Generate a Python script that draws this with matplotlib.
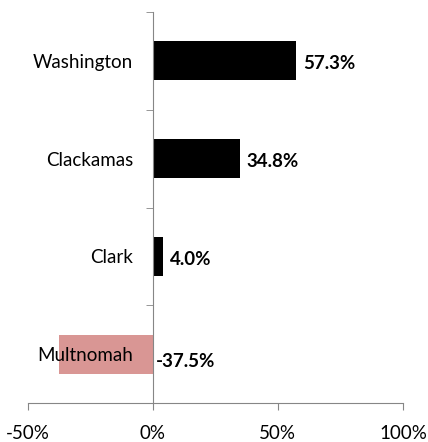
import matplotlib.pyplot as plt
from matplotlib.ticker import FixedLocator

counties = ['Multnomah', 'Clark', 'Clackamas', 'Washington']
change = [-37.5, 4.0, 34.8, 57.3]
bar_colors = ['#D99694', '#000000', '#000000', '#000000']
xticks = [-50, 0, 50, 100]

plt.rcParams['font.family'] = ['Lato', 'DejaVu Sans']

fig = plt.figure(figsize=(4.28, 4.42), dpi=100)
ax = fig.add_axes([0.0647, 0.0882, 0.8766, 0.8846])

# spine position first, it resets the ticks
for s in ['top', 'right']:
    ax.spines[s].set_visible(False)
ax.spines['left'].set_position(('data', 0))
ax.spines['left'].set_color('#868686')
ax.spines['bottom'].set_color('#868686')
ax.spines['left'].set_zorder(3)

ypos = range(len(counties))
ax.barh(ypos, change, height=0.4, color=bar_colors, zorder=1)

for y, v in zip(ypos, change):
    if v >= 0:
        ax.annotate(f'{v:.1f}%', (v, y), xytext=(5, -2), textcoords='offset points',
                    ha='left', va='center', fontsize=13.5, fontweight='bold')
    else:
        ax.annotate(f'{v:.1f}%', (0, y), xytext=(2, -5), textcoords='offset points',
                    ha='left', va='center', fontsize=13.5, fontweight='bold')

ax.set_xlim(-50, 100)
ax.set_ylim(-0.5, len(counties) - 0.5)
ax.set_xticks(xticks)
ax.set_xticklabels([f'{t}%' for t in xticks])
ax.set_yticks(list(ypos))
ax.set_yticklabels(counties)
ax.yaxis.set_minor_locator(FixedLocator([i - 0.5 for i in range(len(counties) + 1)]))

ax.tick_params(axis='y', which='major', length=0, pad=14, labelsize=13.5)
ax.tick_params(axis='y', which='minor', length=5, color='#868686')
ax.tick_params(axis='x', which='major', length=5, color='#868686', pad=10.5, labelsize=13.5)
for lab in ax.get_yticklabels():
    lab.set_zorder(5)

plt.savefig('out.png', dpi=100)
